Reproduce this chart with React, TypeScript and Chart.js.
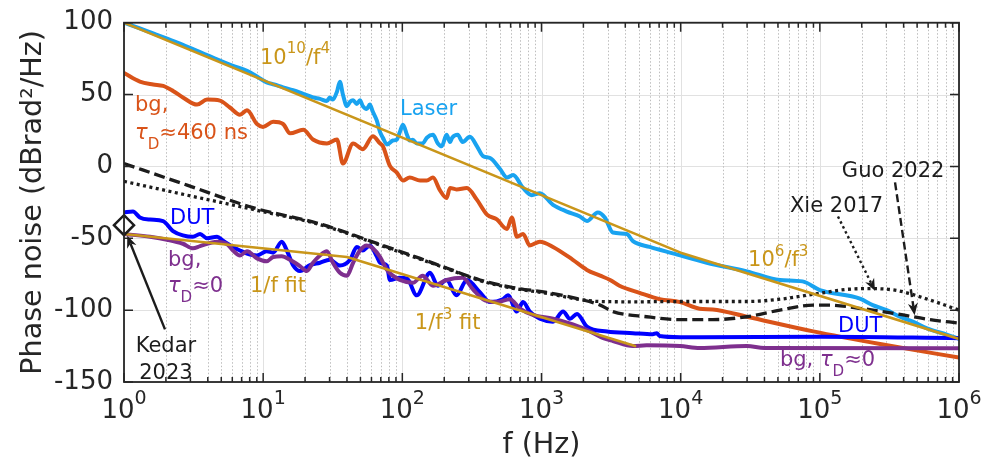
import React, { useEffect, useRef } from "react";
import { Chart, registerables } from "chart.js";
Chart.register(...registerables);

// ---------- data (frequency in Hz, phase noise in dBrad^2/Hz) ----------
const xTickExponents = [0, 1, 2, 3, 4, 5, 6];
const yTicks = [-150, -100, -50, 0, 50, 100];

const laser: [number, number][] = [
  [1, 100], [1.3, 96], [1.62, 92.5], [2.04, 89], [2.65, 84.5], [3.35, 80.5], [4.66, 74.5], [6.07, 70], [7.65, 66.5],
  [9.03, 62.5], [10.6, 58.5], [12, 57], [13.9, 55], [16.4, 53], [19.4, 50.5], [22.8, 48], [25.6, 47], [28.7, 45.5],
  [30.1, 48], [31.7, 46.5], [33.9, 52], [35.6, 59], [37.4, 50], [40, 42], [42.1, 45], [44.3, 46], [47.1, 43.5],
  [49.6, 46], [52, 42], [55.4, 40], [58.4, 43], [61.4, 38], [65.5, 32], [69.1, 24], [72.5, 20], [77.5, 15.3],
  [85.5, 18], [91.3, 18.7], [96, 24], [101, 29], [108, 22], [113, 18], [119, 18.5], [127, 16], [140, 16], [150, 20],
  [166, 22], [180, 16], [192, 14], [208, 22], [220, 17], [228, 20], [250, 22], [271, 17], [306, 20.7], [344, 14],
  [380, 7.2], [427, 5.8], [502, -1.6], [565, -7.7], [625, -6], [737, -15], [851, -20], [973, -18.6], [1210, -26.7],
  [1520, -31.4], [1890, -34.8], [2120, -38], [2540, -32], [2850, -35.5], [3260, -46], [4100, -47], [4540, -52],
  [5990, -56], [8790, -60.5], [15400, -67], [29900, -73], [51600, -79], [75000, -80], [100000, -86], [194000, -92],
  [240000, -96.5], [302000, -100], [376000, -104.6], [466000, -108], [588000, -112.7], [817000, -117], [1000000, -120],
];

const bg460: [number, number][] = [
  [1, 65], [1.3, 59], [1.62, 57], [1.91, 56], [2.25, 52.5], [2.65, 48], [3.35, 43], [3.95, 46.5], [4.89, 45.8],
  [5.77, 41], [6.81, 36], [7.65, 39], [9.03, 29.5], [9.97, 27.5], [11.8, 31], [13.9, 29.5], [15.6, 23], [19.4, 25.5],
  [22.8, 18.7], [28.7, 16], [33.9, 18.7], [37.4, 2], [44.3, 16], [52, 12], [61.4, 21], [69.1, 16], [72.5, 14],
  [81.4, 0.4], [91.3, -4.3], [101, -9.8], [113, -7.7], [134, -9.8], [150, -9.8], [166, -7.7], [186, -16.5],
  [208, -22], [220, -15], [245, -16], [291, -15], [344, -23.3], [406, -33.5], [478, -36.9], [565, -43.6],
  [612, -35.5], [666, -49], [737, -47], [824, -55], [973, -52.4], [1210, -56], [1680, -65], [2120, -72], [2640, -76],
  [3110, -79], [3630, -83], [5070, -88], [7070, -92.4], [9900, -94.4], [13700, -99], [17000, -99.5], [29900, -104.6],
  [89700, -114.8], [271000, -123.6], [1000000, -133],
];

const dut: [number, number][] = [
  [1, -32], [1.16, -31.4], [1.3, -35.5], [1.54, -37], [1.91, -38], [2.25, -45], [2.65, -48], [3.13, -49], [3.52, -47],
  [3.95, -50], [4.66, -49], [5.15, -51.7], [6.07, -56], [6.81, -58.5], [7.65, -60.6], [9.03, -62], [10.6, -59],
  [11.8, -60], [13.6, -52.4], [14.8, -58.5], [16.4, -68.7], [18.4, -72.8], [21.7, -68.7], [25.6, -67], [30.1, -65],
  [35.6, -69], [42.1, -65], [47.1, -56], [52, -58.5], [58.4, -55], [65.5, -62.6], [69.1, -67], [77.5, -69],
  [81.4, -79], [95.9, -77.5], [108, -78], [127, -89.7], [158, -74], [180, -83], [208, -79], [245, -89.7], [291, -79],
  [362, -87.7], [427, -94.4], [528, -92.4], [574, -89.7], [666, -101], [737, -94.4], [824, -101], [973, -106],
  [1210, -108], [1430, -101], [1600, -106], [1800, -102.6], [2120, -111.4], [2960, -114.8], [4540, -116],
  [6300, -116.8], [6740, -116], [7070, -118], [9900, -118.8], [13700, -118.8], [100000, -118.5], [1000000, -119.5],
];

const bg0: [number, number][] = [
  [1, -47], [1.54, -49], [2.04, -51], [2.65, -53.8], [3.13, -57], [3.52, -55.5], [4.66, -52.4], [5.49, -54],
  [6.07, -58.5], [6.81, -62], [7.65, -59], [9.03, -64], [10.6, -66], [11.8, -63], [13.6, -62.5], [15.6, -65],
  [18.4, -69.4], [20.6, -72.8], [22.8, -67], [25.6, -62], [28.7, -59], [31.7, -67], [35.6, -74], [40, -76],
  [44.3, -67], [49.6, -58.5], [55.4, -55], [61.4, -57], [69.1, -63], [77.5, -72], [85.5, -76], [95.9, -79],
  [119, -81], [140, -76], [166, -83], [208, -79], [271, -77.5], [322, -85.6], [380, -92.4], [478, -94.4],
  [593, -92.4], [700, -99], [866, -103.3], [1210, -106], [1680, -110], [2230, -114.8], [2780, -119.5],
  [3260, -121.5], [4540, -125], [5700, -124.5], [9900, -125], [13700, -126.3], [29900, -125], [40000, -126.3],
  [1000000, -126.5],
];

const guo2022: [number, number][] = [
  [1, 2], [2.84, -13], [8.45, -28.7], [25.6, -40], [77.5, -56], [134, -64], [208, -70.7], [362, -79], [625, -84.3],
  [1090, -87.7], [1890, -92.4], [2640, -96.5], [3260, -101], [5700, -104.6], [9900, -106.6], [17000, -106.6],
  [29900, -104.6], [51600, -100], [89700, -96.5], [117000, -96.5], [203000, -99], [357000, -102.6],
  [620000, -106.6], [1000000, -109],
];

const xie2017: [number, number][] = [
  [1, -10.4], [2.84, -20], [6.49, -27.5], [10, -31.5], [25.6, -40.5], [77.5, -56.5], [134, -64.5], [208, -71],
  [362, -79.5], [625, -84.8], [1090, -88.3], [1890, -92.6], [2640, -94], [5000, -94.2], [10000, -94], [30000, -94],
  [51600, -92.4], [89700, -89], [154000, -85.6], [220000, -85], [357000, -86.3], [620000, -93], [1000000, -100],
];

const fitLaser: [number, number][] = [[1, 100], [10000, -60], [1000000, -120]];
const fitDut: [number, number][] = [[1, -47], [40, -63], [4700, -125]];
const kedar2023: [number, number][] = [[1, -40.9]];

// ---------- colours ----------
const C_LASER = "#19A3F0";
const C_BG460 = "#D95319";
const C_DUT = "#0000FF";
const C_BG0 = "#7E2F8E";
const C_GOLD = "#C9961A";
const C_BLACK = "#1c1c1c";
const C_AXIS = "#262626";

type Seg = [string, string?];
type Label = { f: number; v: number; color: string; segs: Seg[]; align?: "left" | "center" };

// annotation anchors in data coordinates (left edge / baseline)
const labels: Label[] = [
  { f: 9.49, v: 71.5, color: C_GOLD, segs: [["10"], ["10", "sup"], ["/f"], ["4", "sup"]] },
  { f: 96.2, v: 35.6, color: C_LASER, segs: [["Laser"]] },
  { f: 1.2, v: 38.8, color: C_BG460, segs: [["bg,"]] },
  { f: 1.2, v: 18.9, color: C_BG460, segs: [["τ", "it"], ["D", "sub"], ["≈460 ns"]] },
  { f: 2.14, v: -40.2, color: C_DUT, segs: [["DUT"]] },
  { f: 2.07, v: -69.2, color: C_BG0, segs: [["bg,"]] },
  { f: 2.07, v: -87.7, color: C_BG0, segs: [["τ", "it"], ["D", "sub"], ["≈0"]] },
  { f: 8.04, v: -87.2, color: C_GOLD, segs: [["1/f fit"]] },
  { f: 123, v: -113.2, color: C_GOLD, segs: [["1/f"], ["3", "sup"], [" fit"]] },
  { f: 2.0, v: -128.8, color: C_BLACK, segs: [["Kedar"]], align: "center" },
  { f: 2.0, v: -148, color: C_BLACK, segs: [["2023"]], align: "center" },
  { f: 144000, v: -7.5, color: C_BLACK, segs: [["Guo 2022"]] },
  { f: 61000, v: -31.9, color: C_BLACK, segs: [["Xie 2017"]] },
  { f: 30500, v: -69.6, color: C_GOLD, segs: [["10"], ["6", "sup"], ["/f"], ["3", "sup"]] },
  { f: 135000, v: -115.4, color: C_DUT, segs: [["DUT"]] },
  { f: 51700, v: -139.2, color: C_BG0, segs: [["bg, "], ["τ", "it"], ["D", "sub"], ["≈0"]] },
];

// arrows in data coordinates
const arrows: { from: [number, number]; to: [number, number]; dash: number[] }[] = [
  { from: [1.97, -113.4], to: [1.056, -48.2], dash: [] },
  { from: [135000, -34.8], to: [249000, -86.5], dash: [2.5, 3] },
  { from: [347000, -11.1], to: [480000, -103.5], dash: [8, 4] },
];

const FONT = '"DejaVu Sans", "Noto Sans", sans-serif';
const LABEL_SIZE = 21;

function segFont(mode: string | undefined, size: number) {
  const s = mode === "sup" || mode === "sub" ? size * 0.72 : size;
  return `${mode === "it" ? "italic " : ""}${s}px ${FONT}`;
}

function drawRich(ctx: CanvasRenderingContext2D, segs: Seg[], x: number, y: number, size: number, color: string, align = "left") {
  ctx.save();
  ctx.fillStyle = color;
  ctx.textBaseline = "alphabetic";
  ctx.textAlign = "left";
  let w = 0;
  for (const [t, m] of segs) {
    ctx.font = segFont(m, size);
    w += ctx.measureText(t).width;
  }
  let cx = align === "center" ? x - w / 2 : x;
  for (const [t, m] of segs) {
    ctx.font = segFont(m, size);
    const dy = m === "sup" ? -0.5 * size : m === "sub" ? 0.45 * size : 0;
    ctx.fillText(t, cx, y + dy);
    cx += ctx.measureText(t).width;
  }
  ctx.restore();
}

function drawArrow(ctx: CanvasRenderingContext2D, x1: number, y1: number, x2: number, y2: number, dash: number[]) {
  const ang = Math.atan2(y2 - y1, x2 - x1);
  const c = Math.cos(ang), s = Math.sin(ang);
  const hl = 12, hw = 5;
  ctx.save();
  ctx.strokeStyle = C_BLACK;
  ctx.fillStyle = C_BLACK;
  ctx.lineWidth = 2.4;
  ctx.setLineDash(dash);
  ctx.beginPath();
  ctx.moveTo(x1, y1);
  ctx.lineTo(x2 - c * hl * 0.7, y2 - s * hl * 0.7);
  ctx.stroke();
  ctx.setLineDash([]);
  ctx.beginPath();
  ctx.moveTo(x2, y2);
  ctx.lineTo(x2 - c * hl - s * hw, y2 - s * hl + c * hw);
  ctx.lineTo(x2 - c * hl * 0.7, y2 - s * hl * 0.7);
  ctx.lineTo(x2 - c * hl + s * hw, y2 - s * hl - c * hw);
  ctx.closePath();
  ctx.fill();
  ctx.restore();
}

const decorPlugin = {
  id: "decor",
  beforeDatasetsDraw(chart: any) {
    const { ctx, chartArea: a, scales } = chart;
    const x = scales.x, y = scales.y;
    ctx.save();
    ctx.lineWidth = 1;
    ctx.strokeStyle = "#e1e1e1";
    for (const v of yTicks) {
      const py = Math.round(y.getPixelForValue(v)) + 0.5;
      ctx.beginPath(); ctx.moveTo(a.left, py); ctx.lineTo(a.right, py); ctx.stroke();
    }
    for (const e of xTickExponents) {
      const px = Math.round(x.getPixelForValue(Math.pow(10, e))) + 0.5;
      ctx.beginPath(); ctx.moveTo(px, a.top); ctx.lineTo(px, a.bottom); ctx.stroke();
    }
    ctx.strokeStyle = "#bdbdbd";
    ctx.setLineDash([1.5, 2]);
    for (let e = 0; e < 6; e++) {
      for (let k = 2; k <= 9; k++) {
        const px = Math.round(x.getPixelForValue(k * Math.pow(10, e))) + 0.5;
        ctx.beginPath(); ctx.moveTo(px, a.top); ctx.lineTo(px, a.bottom); ctx.stroke();
      }
    }
    ctx.restore();
  },
  afterDatasetsDraw(chart: any) {
    const { ctx, chartArea: a, scales } = chart;
    const x = scales.x, y = scales.y;
    ctx.save();
    ctx.strokeStyle = C_AXIS;
    ctx.lineWidth = 1.5;
    for (let e = 0; e <= 6; e++) {
      for (let k = 1; k <= 9; k++) {
        if (e === 6 && k > 1) break;
        const px = x.getPixelForValue(k * Math.pow(10, e));
        const len = k === 1 ? 9 : 5;
        ctx.beginPath();
        ctx.moveTo(px, a.bottom); ctx.lineTo(px, a.bottom - len);
        ctx.moveTo(px, a.top); ctx.lineTo(px, a.top + len);
        ctx.stroke();
      }
    }
    for (const v of yTicks) {
      const py = y.getPixelForValue(v);
      ctx.beginPath();
      ctx.moveTo(a.left, py); ctx.lineTo(a.left + 9, py);
      ctx.moveTo(a.right, py); ctx.lineTo(a.right - 9, py);
      ctx.stroke();
    }
    ctx.lineWidth = 1.8;
    ctx.strokeRect(a.left, a.top, a.right - a.left, a.bottom - a.top);
    ctx.restore();

    // x tick labels 10^n
    for (const e of xTickExponents) {
      const px = x.getPixelForValue(Math.pow(10, e));
      ctx.save();
      ctx.font = `26px ${FONT}`;
      const w1 = ctx.measureText("10").width;
      ctx.font = `19px ${FONT}`;
      const w2 = ctx.measureText(String(e)).width;
      const left = px - (w1 + w2) / 2;
      ctx.fillStyle = C_AXIS;
      ctx.textBaseline = "alphabetic";
      ctx.font = `26px ${FONT}`;
      ctx.fillText("10", left, 418);
      ctx.font = `19px ${FONT}`;
      ctx.fillText(String(e), left + w1, 404);
      ctx.restore();
    }

    for (const ar of arrows) {
      drawArrow(ctx, x.getPixelForValue(ar.from[0]), y.getPixelForValue(ar.from[1]),
        x.getPixelForValue(ar.to[0]), y.getPixelForValue(ar.to[1]), ar.dash);
    }
    for (const l of labels) {
      drawRich(ctx, l.segs, x.getPixelForValue(l.f), y.getPixelForValue(l.v), LABEL_SIZE, l.color, l.align || "left");
    }
  },
};

function series(pts: [number, number][], color: string, width: number, dash: number[] = [], smooth = true) {
  return {
    data: pts.map(([f, v]) => ({ x: f, y: v })),
    borderColor: color,
    backgroundColor: color,
    borderWidth: width,
    borderDash: dash,
    borderJoinStyle: "round" as const,
    borderCapStyle: dash.length ? ("butt" as const) : ("round" as const),
    pointRadius: 0,
    fill: false,
    cubicInterpolationMode: smooth ? ("monotone" as const) : ("default" as const),
    tension: 0,
  };
}

export default function App() {
  const ref = useRef<HTMLCanvasElement | null>(null);
  useEffect(() => {
    if (!ref.current) return;
    const chart = new Chart(ref.current, {
      type: "line",
      data: {
        datasets: [
          {
            data: kedar2023.map(([f, v]) => ({ x: f, y: v })),
            showLine: false,
            pointStyle: "rectRot",
            pointRadius: 10,
            pointBorderWidth: 2.5,
            pointBorderColor: C_BLACK,
            pointBackgroundColor: "rgba(0,0,0,0)",
            clip: false,
          } as any,
          series(fitLaser, C_GOLD, 2.6, [], false),
          series(fitDut, C_GOLD, 2.6, [], false),
          series(guo2022, C_BLACK, 3.3, [11, 5]),
          series(xie2017, C_BLACK, 3.3, [3, 3.5]),
          series(bg0, C_BG0, 4),
          series(dut, C_DUT, 4),
          series(bg460, C_BG460, 4),
          series(laser, C_LASER, 4),
        ],
      },
      options: {
        animation: false,
        responsive: false,
        devicePixelRatio: 1,
        events: [],
        layout: { padding: { left: 0, right: 27, top: 13, bottom: 0 } },
        plugins: { legend: { display: false }, tooltip: { enabled: false } },
        scales: {
          x: {
            type: "logarithmic",
            min: 1,
            max: 1000000,
            grid: { display: false, drawTicks: false },
            border: { display: false },
            ticks: { display: false },
            title: {
              display: true,
              text: "f (Hz)",
              color: C_AXIS,
              font: { family: FONT, size: 28.6 },
              padding: { top: 0, bottom: 7 },
            },
            afterFit: (s: any) => { s.height = 88; },
          },
          y: {
            min: -150,
            max: 100,
            afterBuildTicks: (s: any) => { s.ticks = yTicks.map((v) => ({ value: v })); },
            grid: { display: false, drawTicks: false },
            border: { display: false },
            ticks: { color: C_AXIS, font: { family: FONT, size: 26, lineHeight: 0.9 }, padding: 11 },
            title: {
              display: true,
              text: "Phase noise (dBrad²/Hz)",
              color: C_AXIS,
              font: { family: FONT, size: 28.6 },
              padding: { top: 16, bottom: 0 },
            },
            afterFit: (s: any) => { s.width = 124; },
          },
        },
      } as any,
      plugins: [decorPlugin],
    });
    return () => chart.destroy();
  }, []);
  return (
    <div style={{ position: "fixed", left: 0, top: 0, width: 986, height: 470, background: "#fff" }}>
      <canvas ref={ref} width={986} height={470} style={{ width: 986, height: 470, display: "block" }} />
    </div>
  );
}
